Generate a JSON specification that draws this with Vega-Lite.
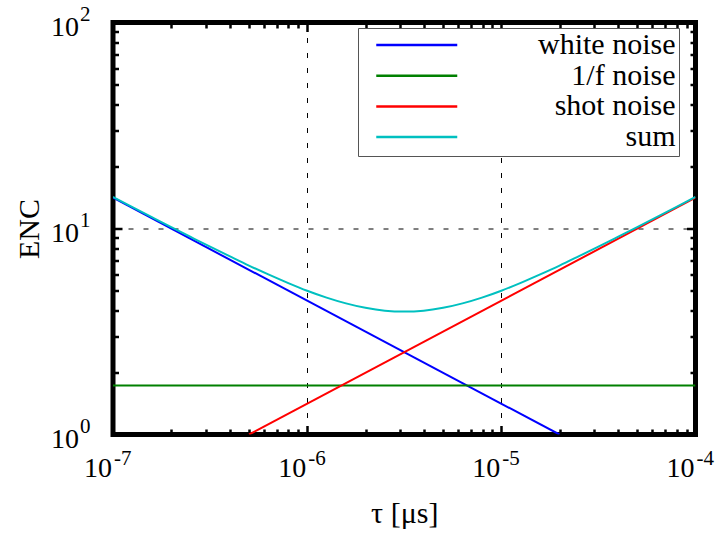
{
  "$schema": "https://vega.github.io/schema/vega-lite/v6.json",
  "width": 582.5,
  "height": 412,
  "autosize": "none",
  "padding": {"left": 113, "top": 22.5, "right": 24.5, "bottom": 98.5},
  "background": "white",
  "config": {
    "font": "Liberation Serif, Times New Roman, DejaVu Serif, serif",
    "view": {"stroke": "black", "strokeWidth": 5},
    "axis": {
      "labels": false,
      "domain": false,
      "tickColor": "black",
      "tickWidth": 2.5,
      "titleFont": "Liberation Serif, Times New Roman, DejaVu Serif, serif",
      "titleFontWeight": "normal",
      "titleColor": "black",
      "titleFontSize": 30
    }
  },
  "datasets": {
    "curves": [
      {"series": "white noise", "tau": 1e-7, "enc": 14.11},
      {"series": "white noise", "tau": 1.992e-5, "enc": 1.0},
      {"series": "1/f noise", "tau": 1e-7, "enc": 1.73},
      {"series": "1/f noise", "tau": 1e-4, "enc": 1.73},
      {"series": "shot noise", "tau": 5.02e-7, "enc": 1.0},
      {"series": "shot noise", "tau": 1e-4, "enc": 14.11},
      {"series": "sum", "tau": 1e-7, "enc": 14.23},
      {"series": "sum", "tau": 1.259e-7, "enc": 12.71},
      {"series": "sum", "tau": 1.585e-7, "enc": 11.36},
      {"series": "sum", "tau": 1.995e-7, "enc": 10.16},
      {"series": "sum", "tau": 2.512e-7, "enc": 9.10},
      {"series": "sum", "tau": 3.162e-7, "enc": 8.16},
      {"series": "sum", "tau": 3.981e-7, "enc": 7.34},
      {"series": "sum", "tau": 5.012e-7, "enc": 6.61},
      {"series": "sum", "tau": 6.310e-7, "enc": 5.99},
      {"series": "sum", "tau": 7.943e-7, "enc": 5.45},
      {"series": "sum", "tau": 1e-6, "enc": 4.99},
      {"series": "sum", "tau": 1.259e-6, "enc": 4.62},
      {"series": "sum", "tau": 1.585e-6, "enc": 4.33},
      {"series": "sum", "tau": 1.995e-6, "enc": 4.12},
      {"series": "sum", "tau": 2.512e-6, "enc": 3.99},
      {"series": "sum", "tau": 3.162e-6, "enc": 3.95},
      {"series": "sum", "tau": 3.981e-6, "enc": 3.99},
      {"series": "sum", "tau": 5.012e-6, "enc": 4.12},
      {"series": "sum", "tau": 6.310e-6, "enc": 4.33},
      {"series": "sum", "tau": 7.943e-6, "enc": 4.62},
      {"series": "sum", "tau": 1e-5, "enc": 4.99},
      {"series": "sum", "tau": 1.259e-5, "enc": 5.45},
      {"series": "sum", "tau": 1.585e-5, "enc": 5.99},
      {"series": "sum", "tau": 1.995e-5, "enc": 6.61},
      {"series": "sum", "tau": 2.512e-5, "enc": 7.34},
      {"series": "sum", "tau": 3.162e-5, "enc": 8.16},
      {"series": "sum", "tau": 3.981e-5, "enc": 9.10},
      {"series": "sum", "tau": 5.012e-5, "enc": 10.16},
      {"series": "sum", "tau": 6.310e-5, "enc": 11.36},
      {"series": "sum", "tau": 7.943e-5, "enc": 12.71},
      {"series": "sum", "tau": 1e-4, "enc": 14.23}
    ],
    "xlabels": [
      {"tau": 1e-7, "enc": 1, "base": "10", "exp": "-7"},
      {"tau": 1e-6, "enc": 1, "base": "10", "exp": "-6"},
      {"tau": 1e-5, "enc": 1, "base": "10", "exp": "-5"},
      {"tau": 1e-4, "enc": 1, "base": "10", "exp": "-4"}
    ],
    "ylabels": [
      {"tau": 1e-7, "enc": 1, "base": "10", "exp": "0"},
      {"tau": 1e-7, "enc": 10, "base": "10", "exp": "1"},
      {"tau": 1e-7, "enc": 100, "base": "10", "exp": "2"}
    ]
  },
  "resolve": {"axis": {"x": "independent", "y": "independent"}},
  "layer": [
    {
      "data": {"name": "curves"},
      "mark": {"type": "line", "strokeWidth": 2, "clip": true, "interpolate": "monotone"},
      "encoding": {
        "x": {
          "field": "tau", "type": "quantitative",
          "scale": {"type": "log", "domain": [1e-7, 1e-4], "nice": false},
          "axis": {
            "orient": "bottom",
            "values": [1e-7, 2e-7, 3e-7, 4e-7, 5e-7, 6e-7, 7e-7, 8e-7, 9e-7, 1e-6, 2e-6, 3e-6, 4e-6, 5e-6, 6e-6, 7e-6, 8e-6, 9e-6, 1e-5, 2e-5, 3e-5, 4e-5, 5e-5, 6e-5, 7e-5, 8e-5, 9e-5, 1e-4],
            "tickSize": {"condition": {"test": "abs(log(datum.value)/LN10 - round(log(datum.value)/LN10)) < 1e-6", "value": -9}, "value": -5.5},
            "grid": true,
            "gridColor": "black",
            "gridWidth": 1,
            "gridDash": [5, 10],
            "gridOpacity": {"condition": {"test": "abs(log(datum.value)/LN10 - round(log(datum.value)/LN10)) < 1e-6", "value": 1}, "value": 0},
            "title": "τ [μs]",
            "titleY": 87.5,
            "titleBaseline": "alphabetic"
          }
        },
        "y": {
          "field": "enc", "type": "quantitative",
          "scale": {"type": "log", "domain": [1, 100], "nice": false},
          "axis": {
            "orient": "left",
            "values": [1, 2, 3, 4, 5, 6, 7, 8, 9, 10, 20, 30, 40, 50, 60, 70, 80, 90, 100],
            "tickSize": {"condition": {"test": "abs(log(datum.value)/LN10 - round(log(datum.value)/LN10)) < 1e-6", "value": -9}, "value": -5.5},
            "grid": true,
            "gridColor": "black",
            "gridWidth": 1,
            "gridDash": [5, 10],
            "gridOpacity": {"condition": {"test": "abs(log(datum.value)/LN10 - round(log(datum.value)/LN10)) < 1e-6", "value": 1}, "value": 0},
            "title": "ENC",
            "titleAngle": -90,
            "titleX": -75,
            "titleY": 206,
            "titleAlign": "center",
            "titleBaseline": "alphabetic"
          }
        },
        "color": {
          "field": "series", "type": "nominal",
          "scale": {
            "domain": ["white noise", "1/f noise", "shot noise", "sum"],
            "range": ["#0000ff", "#008000", "#ff0000", "#00c0c0"]
          },
          "legend": {
            "title": null,
            "orient": "none",
            "legendX": 245,
            "legendY": 5.5,
            "direction": "vertical",
            "symbolType": "stroke",
            "symbolSize": 6561,
            "symbolStrokeWidth": 2.5,
            "symbolOffset": 13.75,
            "clipHeight": 28,
            "rowPadding": 0.7,
            "padding": 3,
            "labelAlign": "right",
            "labelOffset": 216.75,
            "labelFont": "Liberation Serif, Times New Roman, DejaVu Serif, serif",
            "labelFontSize": 30,
            "labelColor": "black",
            "labelLimit": 400,
            "fillColor": "white",
            "strokeColor": "#555555"
          }
        }
      }
    },
    {
      "data": {"name": "xlabels"},
      "mark": {"type": "text", "align": "right", "baseline": "alphabetic", "dx": -1, "dy": 42.5, "fontSize": 28, "font": "Liberation Serif, Times New Roman, DejaVu Serif, serif", "fill": "black", "clip": false},
      "encoding": {
        "x": {
          "field": "tau", "type": "quantitative",
          "axis": {
            "orient": "top",
            "values": [1e-7, 2e-7, 3e-7, 4e-7, 5e-7, 6e-7, 7e-7, 8e-7, 9e-7, 1e-6, 2e-6, 3e-6, 4e-6, 5e-6, 6e-6, 7e-6, 8e-6, 9e-6, 1e-5, 2e-5, 3e-5, 4e-5, 5e-5, 6e-5, 7e-5, 8e-5, 9e-5, 1e-4],
            "tickSize": {"condition": {"test": "abs(log(datum.value)/LN10 - round(log(datum.value)/LN10)) < 1e-6", "value": -9}, "value": -5.5},
            "grid": false,
            "title": null
          }
        },
        "y": {
          "field": "enc", "type": "quantitative",
          "axis": {
            "orient": "right",
            "values": [1, 2, 3, 4, 5, 6, 7, 8, 9, 10, 20, 30, 40, 50, 60, 70, 80, 90, 100],
            "tickSize": {"condition": {"test": "abs(log(datum.value)/LN10 - round(log(datum.value)/LN10)) < 1e-6", "value": -9}, "value": -5.5},
            "grid": false,
            "title": null
          }
        },
        "text": {"field": "base", "type": "nominal"}
      }
    },
    {
      "data": {"name": "xlabels"},
      "mark": {"type": "text", "align": "left", "baseline": "alphabetic", "dx": 1, "dy": 30.5, "fontSize": 21, "font": "Liberation Serif, Times New Roman, DejaVu Serif, serif", "fill": "black", "clip": false},
      "encoding": {
        "x": {"field": "tau", "type": "quantitative", "axis": null},
        "y": {"field": "enc", "type": "quantitative", "axis": null},
        "text": {"field": "exp", "type": "nominal"}
      }
    },
    {
      "data": {"name": "ylabels"},
      "mark": {"type": "text", "align": "right", "baseline": "alphabetic", "dx": -34, "dy": 13.5, "fontSize": 28, "font": "Liberation Serif, Times New Roman, DejaVu Serif, serif", "fill": "black", "clip": false},
      "encoding": {
        "x": {"field": "tau", "type": "quantitative", "axis": null},
        "y": {"field": "enc", "type": "quantitative", "axis": null},
        "text": {"field": "base", "type": "nominal"}
      }
    },
    {
      "data": {"name": "ylabels"},
      "mark": {"type": "text", "align": "left", "baseline": "alphabetic", "dx": -33, "dy": -2, "fontSize": 21, "font": "Liberation Serif, Times New Roman, DejaVu Serif, serif", "fill": "black", "clip": false},
      "encoding": {
        "x": {"field": "tau", "type": "quantitative", "axis": null},
        "y": {"field": "enc", "type": "quantitative", "axis": null},
        "text": {"field": "exp", "type": "nominal"}
      }
    }
  ]
}
